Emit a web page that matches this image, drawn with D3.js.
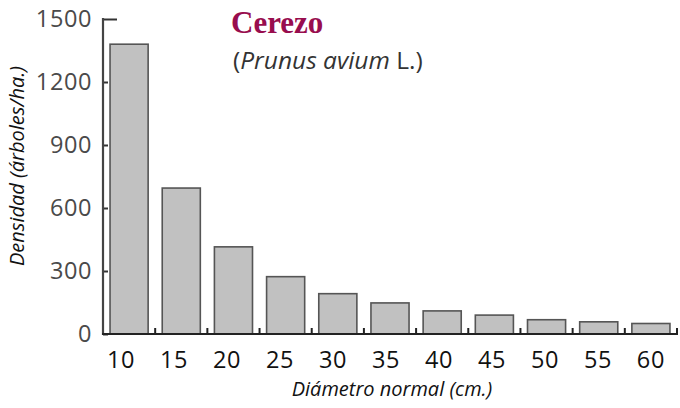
<!DOCTYPE html>
<html><head><meta charset="utf-8">
<script src="https://cdn.jsdelivr.net/npm/d3@7"></script>
<style>body{margin:0;background:#fff}</style>
</head><body>
<script>
const categories = ["10","15","20","25","30","35","40","45","50","55","60"];
const densidad = [1380, 695, 415, 273, 192, 148, 110, 90, 68, 58, 50];
const yTicks = [0, 300, 600, 900, 1200, 1500];
const title = "Cerezo";
const yLabel = "Densidad (árboles/ha.)";
const xLabel = "Diámetro normal (cm.)";

const W = 680, H = 408;
const svg = d3.select("body").append("svg").attr("width", W).attr("height", H);
const font = "'Open Sans', 'Noto Sans', sans-serif";

const x = d3.scaleBand().domain(categories).range([103, 677]).paddingInner(0.27).paddingOuter(0.135);
const y = d3.scaleLinear().domain([0, 1500]).range([334, 19]);

// bars
svg.append("g").selectAll("rect").data(categories).join("rect")
  .attr("x", d => x(d)).attr("width", x.bandwidth())
  .attr("y", (d,i) => y(densidad[i])).attr("height", (d,i) => y(0) - y(densidad[i]))
  .attr("fill", "#c1c1c1").attr("stroke", "#555").attr("stroke-width", 1.6);

// y axis
const yAxis = svg.append("g").attr("transform", "translate(103,0)")
  .call(d3.axisRight(y).tickValues(yTicks).tickSize(5).tickFormat(""));
yAxis.select(".domain").remove();
yAxis.selectAll(".tick line").attr("stroke", "#333").attr("stroke-width", 2)
  .attr("x2", d => d === 1500 ? 14 : 5);
svg.append("line").attr("x1", 103).attr("x2", 103).attr("y1", y(1500)-1).attr("y2", y(0)+1)
  .attr("stroke", "#444").attr("stroke-width", 2.2);
svg.append("g").selectAll("text").data(yTicks).join("text")
  .attr("x", 92).attr("y", d => y(d)).attr("dy", "0.36em").attr("text-anchor", "end")
  .attr("font-family", font).attr("font-size", 23.5).attr("fill", "#4a4a4a")
  .attr("letter-spacing", "0.6")
  .text(d => d);

// x axis
svg.append("line").attr("x1", 102).attr("x2", 678).attr("y1", y(0)).attr("y2", y(0))
  .attr("stroke", "#222").attr("stroke-width", 2);
svg.append("g").selectAll("line").data(categories).join("line")
  .attr("x1", d => x(d) + x.bandwidth() + (x.step()-x.bandwidth())/2)
  .attr("x2", d => x(d) + x.bandwidth() + (x.step()-x.bandwidth())/2)
  .attr("y1", y(0)).attr("y2", y(0) - 6)
  .attr("stroke", "#222").attr("stroke-width", 2);
svg.append("g").selectAll("text").data(categories).join("text")
  .attr("x", (d,i) => x(d) + x.bandwidth()/2 - 8 + i*0.8).attr("y", 368)
  .attr("text-anchor", "middle")
  .attr("font-family", font).attr("font-size", 23.5).attr("fill", "#111")
  .attr("letter-spacing", "0.6")
  .text(d => d);

// axis titles
svg.append("text").attr("transform", "translate(24,166) rotate(-90)")
  .attr("text-anchor", "middle").attr("font-family", font).attr("font-style", "italic")
  .attr("font-size", 20).attr("fill", "#111").text(yLabel);
svg.append("text").attr("x", 392).attr("y", 396)
  .attr("text-anchor", "middle").attr("font-family", font).attr("font-style", "italic")
  .attr("font-size", 20).attr("fill", "#111").text(xLabel);

// title
svg.append("text").attr("x", 231).attr("y", 33)
  .attr("font-family", "'Liberation Serif', 'DejaVu Serif', serif").attr("font-weight", "bold")
  .attr("font-size", 31).attr("fill", "#980d4e").text(title);
const sub = svg.append("text").attr("x", 233).attr("y", 69)
  .attr("font-family", font).attr("font-size", 24.5).attr("fill", "#333");
sub.append("tspan").text("(");
sub.append("tspan").attr("font-style", "italic").text("Prunus avium");
sub.append("tspan").text(" L.)");
</script>
</body></html>
